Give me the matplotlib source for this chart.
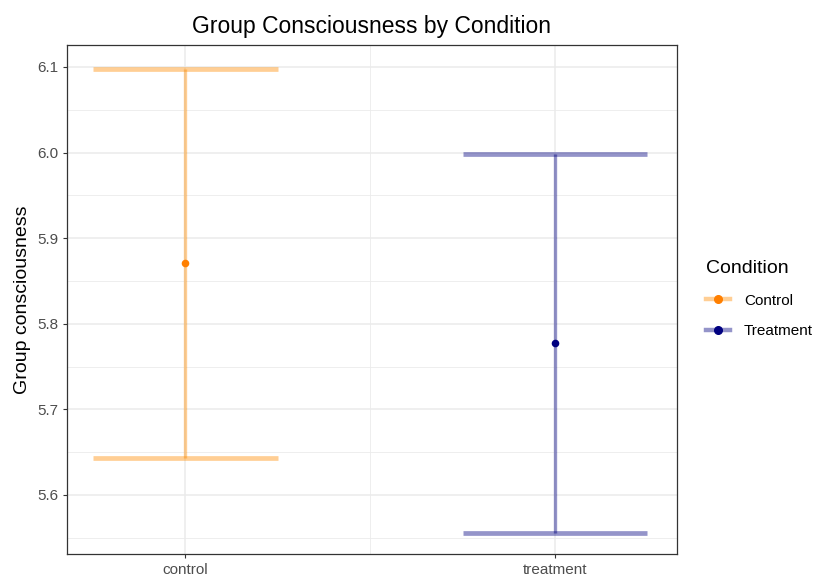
import matplotlib
matplotlib.use('Agg')
import matplotlib.pyplot as plt
from matplotlib.lines import Line2D

plt.rcParams['font.family'] = ['Liberation Sans', 'DejaVu Sans']

conditions = ['control', 'treatment']
legend_labels = ['Control', 'Treatment']
means = [5.871, 5.777]
lower = [5.643, 5.556]
upper = [6.098, 5.998]

bar_colors = ['#ff8c00', '#000080']
point_colors = ['#ff7f00', '#000080']

fig = plt.figure(figsize=(8.17, 5.77), dpi=100)
ax = fig.add_axes([67 / 817, 1 - 554 / 577, 610 / 817, 509 / 577])

xs = [1, 2]
for x, m, lo, hi, bc, pc in zip(xs, means, lower, upper, bar_colors, point_colors):
    ax.vlines(x, lo, hi, color=bc, alpha=0.42, linewidth=2.4, zorder=3)
    ax.hlines([lo, hi], x - 0.25, x + 0.25, color=bc, alpha=0.42, linewidth=3.4, zorder=3)
    ax.scatter([x], [m], color=pc, s=30, zorder=4, linewidths=0)

ax.set_xlim(0.68, 2.33)
ax.set_ylim(5.531, 6.1257)
ax.set_xticks(xs)
ax.set_xticklabels(conditions)
ax.set_yticks([5.6, 5.7, 5.8, 5.9, 6.0, 6.1])
ax.set_yticks([5.55, 5.65, 5.75, 5.85, 5.95, 6.05], minor=True)
ax.set_xticks([1.5], minor=True)

ax.grid(True, which='major', color='#ebebeb', linewidth=1.1, zorder=0)
ax.grid(True, which='minor', color='#ebebeb', linewidth=0.6, zorder=0)
ax.set_axisbelow(True)
for s in ax.spines.values():
    s.set_color('#333333')
    s.set_linewidth(0.9)
ax.tick_params(which='major', length=3, color='#333333', labelsize=11, labelcolor='#4d4d4d')
ax.tick_params(which='minor', length=0)

ax.set_ylabel('Group consciousness', fontsize=14, color='black', labelpad=4)
ax.set_title('Group Consciousness by Condition', fontsize=16.5, pad=9)

handles = []
for bc, pc in zip(bar_colors, point_colors):
    line = Line2D([0], [0], color=bc, alpha=0.42, linewidth=3.2)
    dot = Line2D([0], [0], linestyle='none', marker='o', markerfacecolor=pc,
                 markeredgecolor=pc, markersize=5.5)
    handles.append((line, dot))

leg = fig.legend(handles, legend_labels, title='Condition', loc='upper left',
                 bbox_to_anchor=(692 / 817, 1 - 246 / 577), frameon=False,
                 fontsize=11, title_fontsize=14, handlelength=1.6,
                 handletextpad=0.9, labelspacing=1.1, alignment='left')

fig.savefig('out.png', dpi=100)
